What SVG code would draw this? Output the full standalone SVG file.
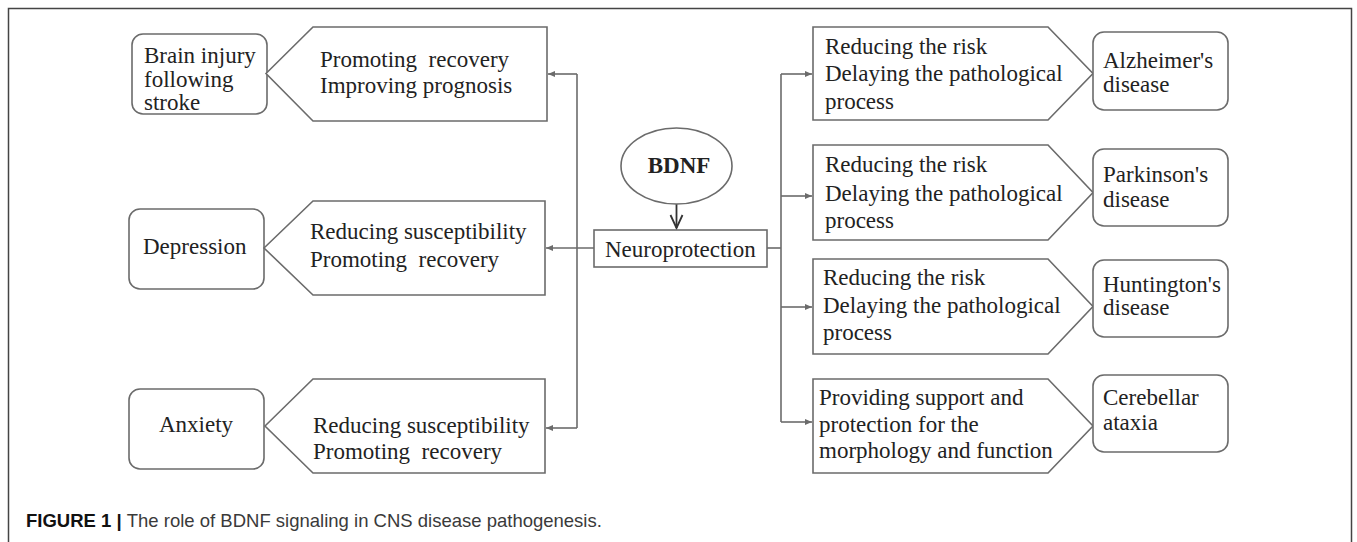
<svg xmlns="http://www.w3.org/2000/svg" width="1357" height="542" viewBox="0 0 1357 542">
<style>
.t{font-family:"Liberation Serif","Times New Roman",serif;font-size:23px;fill:#222;white-space:pre}
.b{font-weight:bold}
.box{fill:#fff;stroke:#6b6b6b;stroke-width:1.6}
.ln{fill:none;stroke:#6b6b6b;stroke-width:1.6}
.cap{font-family:"Liberation Sans",Arial,sans-serif;font-size:18.5px;fill:#3a3a3a}
</style>
<defs>
<marker id="ah" markerWidth="8" markerHeight="8" refX="7" refY="4" orient="auto" markerUnits="userSpaceOnUse">
<path d="M0,1 L7,4 L0,7 Z" fill="#6b6b6b"/>
</marker>
</defs>
<rect x="8.5" y="8.5" width="1343" height="600" fill="#fff" stroke="#444" stroke-width="1.5"/>

<g id="connectors">
<line x1="676.5" y1="204" x2="676.5" y2="228" stroke="#333" stroke-width="1.8"/>
<path d="M670.5,215 L676.5,228 L682.5,215" fill="none" stroke="#333" stroke-width="1.8"/>
<polyline class="ln" points="577,428 577,74"/>
<line class="ln" x1="577" y1="74" x2="548" y2="74" marker-end="url(#ah)"/>
<line class="ln" x1="594" y1="248" x2="546" y2="248" marker-end="url(#ah)"/>
<line class="ln" x1="577" y1="428" x2="546" y2="428" marker-end="url(#ah)"/>
<line class="ln" x1="767" y1="248" x2="781" y2="248"/>
<polyline class="ln" points="781,74 781,422"/>
<line class="ln" x1="781" y1="74" x2="812" y2="74" marker-end="url(#ah)"/>
<line class="ln" x1="781" y1="196" x2="812" y2="196" marker-end="url(#ah)"/>
<line class="ln" x1="781" y1="307" x2="812" y2="307" marker-end="url(#ah)"/>
<line class="ln" x1="781" y1="422" x2="812" y2="422" marker-end="url(#ah)"/>
</g>

<g id="bdnf">
<ellipse class="box" cx="676.5" cy="166" rx="55.5" ry="38"/>
<text class="t b" x="679" y="173" text-anchor="middle">BDNF</text>
</g>
<g id="neuroprotection">
<rect class="box" x="594" y="230" width="173" height="37"/>
<text class="t" x="605" y="257">Neuroprotection</text>
</g>

<g id="brain-injury">
<rect class="box" x="132" y="34" width="135" height="80" rx="11"/>
<text class="t" x="144" y="63">Brain injury</text>
<text class="t" x="144" y="87">following</text>
<text class="t" x="144" y="110">stroke</text>
</g>
<g id="hex-left-1">
<polygon class="box" points="266,73.5 313,27 547,27 547,121 313,121"/>
<text class="t" x="320" y="67">Promoting  recovery</text>
<text class="t" x="320" y="93">Improving prognosis</text>
</g>

<g id="depression">
<rect class="box" x="129" y="209" width="135" height="80" rx="11"/>
<text class="t" x="143" y="254">Depression</text>
</g>
<g id="hex-left-2">
<polygon class="box" points="264,248 313,201 545,201 545,295 313,295"/>
<text class="t" x="310" y="239">Reducing susceptibility</text>
<text class="t" x="310" y="267">Promoting  recovery</text>
</g>

<g id="anxiety">
<rect class="box" x="129" y="389" width="135" height="80" rx="11"/>
<text class="t" x="159" y="432">Anxiety</text>
</g>
<g id="hex-left-3">
<polygon class="box" points="265,426 313,379 545,379 545,473 313,473"/>
<text class="t" x="313" y="433">Reducing susceptibility</text>
<text class="t" x="313" y="459">Promoting  recovery</text>
</g>

<g id="hex-right-1">
<polygon class="box" points="813,27 1048,27 1093,73.5 1048,120 813,120"/>
<text class="t" x="825" y="53.5">Reducing the risk</text>
<text class="t" x="825" y="81">Delaying the pathological</text>
<text class="t" x="825" y="108.5">process</text>
</g>
<g id="alzheimer">
<rect class="box" x="1093" y="32" width="135" height="78" rx="11"/>
<text class="t" x="1103" y="68">Alzheimer's</text>
<text class="t" x="1103" y="92">disease</text>
</g>

<g id="hex-right-2">
<polygon class="box" points="813,145 1048,145 1093,192.5 1048,240 813,240"/>
<text class="t" x="825" y="172">Reducing the risk</text>
<text class="t" x="825" y="201">Delaying the pathological</text>
<text class="t" x="825" y="228">process</text>
</g>
<g id="parkinson">
<rect class="box" x="1093" y="149" width="135" height="77" rx="11"/>
<text class="t" x="1103" y="182">Parkinson's</text>
<text class="t" x="1103" y="207">disease</text>
</g>

<g id="hex-right-3">
<polygon class="box" points="813,259 1048,259 1093,306.5 1048,354 813,354"/>
<text class="t" x="823" y="285">Reducing the risk</text>
<text class="t" x="823" y="313">Delaying the pathological</text>
<text class="t" x="823" y="340">process</text>
</g>
<g id="huntington">
<rect class="box" x="1093" y="260" width="135" height="77" rx="11"/>
<text class="t" x="1103" y="292">Huntington's</text>
<text class="t" x="1103" y="315">disease</text>
</g>

<g id="hex-right-4">
<polygon class="box" points="813,379 1048,379 1093,426 1048,473 813,473"/>
<text class="t" x="819" y="405">Providing support and</text>
<text class="t" x="819" y="432">protection for the</text>
<text class="t" x="819" y="458">morphology and function</text>
</g>
<g id="cerebellar">
<rect class="box" x="1093" y="375" width="135" height="77" rx="11"/>
<text class="t" x="1103" y="405">Cerebellar</text>
<text class="t" x="1103" y="430">ataxia</text>
</g>

<text class="cap" x="26" y="527"><tspan font-weight="bold" fill="#111">FIGURE 1 | </tspan>The role of BDNF signaling in CNS disease pathogenesis.</text>
</svg>
